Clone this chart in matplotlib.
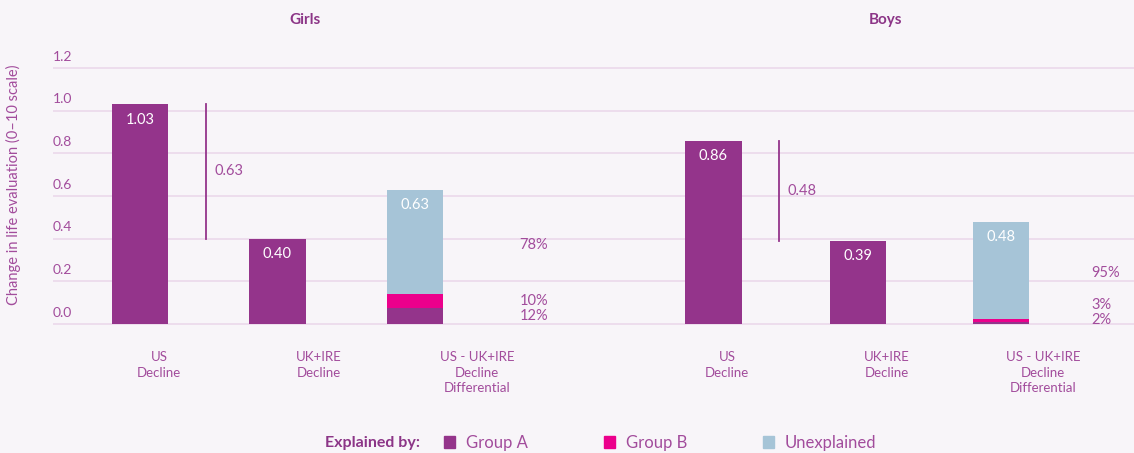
import matplotlib
matplotlib.use("Agg")
import matplotlib.pyplot as plt
from matplotlib.patches import Rectangle

# ---- data ----
panels = ["Girls", "Boys"]
categories = ["US\nDecline", "UK+IRE\nDecline", "US - UK+IRE\nDecline\nDifferential"]
us_decline = [1.03, 0.86]
uk_decline = [0.40, 0.39]
differential = [0.63, 0.48]
# share of differential explained (%)
share_group_a = [12, 2]
share_group_b = [10, 3]
share_unexplained = [78, 95]
series_names = ["Group A", "Group B", "Unexplained"]
yticks = [0.0, 0.2, 0.4, 0.6, 0.8, 1.0, 1.2]

# ---- style ----
C_A = "#94348B"
C_B = "#EC008C"
C_U = "#A6C4D7"
C_TXT = "#A24C9C"
C_TITLE = "#8C3587"
BG = "#F8F5F9"
GRID = "#EBD9EB"
plt.rcParams["font.family"] = ["Lato", "DejaVu Sans"]

W, H = 1134, 453
fig = plt.figure(figsize=(W / 100, H / 100), dpi=100, facecolor=BG)

# layout (slot units)
px_unit = 137.5
x0_px = 140
xlim = ((53 - x0_px) / px_unit, (W - x0_px) / px_unit)
ylim = (-0.03, 1.25)
y0_px, y12_px = 324, 68
ppu = (y0_px - y12_px) / 1.2
ax_bottom = (H - (y0_px - ylim[0] * ppu)) / H
ax_top = (H - (y0_px - ylim[1] * ppu)) / H
ax = fig.add_axes([53 / W, ax_bottom, 1 - 53 / W, ax_top - ax_bottom])
ax.set_facecolor(BG)
ax.set_xlim(*xlim)
ax.set_ylim(*ylim)

group_x = [[0.0, 1.0, 2.0], [4.17, 5.22, 6.26]]
label_x = [[0.14, 1.3, 2.45], [4.27, 5.43, 6.57]]
bw = 0.41

for t in yticks:
    ax.axhline(t, color=GRID, lw=1.2, zorder=0)
    ax.text(0.0, t + 0.025, f"{t:.1f}", transform=ax.get_yaxis_transform(),
            ha="left", va="bottom", fontsize=10, color=C_TXT)

for s in ax.spines.values():
    s.set_visible(False)
ax.set_yticks([])
ax.tick_params(axis="x", length=0, pad=15)
ax.set_xticks([x for g in label_x for x in g])
ax.set_xticklabels(categories * 2, fontsize=9.5, color=C_TXT, linespacing=1.35)
for lab in ax.get_xticklabels():
    lab.set_verticalalignment("top")

fig.text(13 / W, 1 - 185 / H, "Change in life evaluation (0\u201310 scale)", rotation=90,
         ha="center", va="center", fontsize=10.5, color=C_TXT)

title_x = [305, 885]
for i, name in enumerate(panels):
    gx = group_x[i]
    fig.text(title_x[i] / W, 1 - 20 / H, name, ha="center", va="center",
             fontsize=11, fontweight="bold", color=C_TITLE)

    ax.bar(gx[0], us_decline[i], bw, color=C_A, zorder=2)
    ax.bar(gx[1], uk_decline[i], bw, color=C_A, zorder=2)
    a = differential[i] * share_group_a[i] / 100
    b = differential[i] * share_group_b[i] / 100
    u = differential[i] * share_unexplained[i] / 100
    ax.bar(gx[2], a, bw, color=C_A, zorder=2)
    ax.bar(gx[2], b, bw, bottom=a, color=C_B, zorder=2)
    ax.bar(gx[2], u, bw, bottom=a + b, color=C_U, zorder=2)

    for xx, v in [(gx[0], us_decline[i]), (gx[1], uk_decline[i]), (gx[2], differential[i])]:
        ax.annotate(f"{v:.2f}", (xx, v), xytext=(0, -11), textcoords="offset points",
                    ha="center", va="center", color="white", fontsize=10.5, zorder=3)

    # bracket showing the gap between US and UK+IRE
    lx = gx[0] + 0.48
    ax.plot([lx, lx], [uk_decline[i], us_decline[i]], color=C_A, lw=1.3, zorder=2)
    ax.text(lx + 0.06, (uk_decline[i] + us_decline[i]) / 2, f"{differential[i]:.2f}",
            ha="left", va="center", fontsize=10.5, color=C_TXT)

    # percentage labels beside the stacked bar
    ya = max(a / 2, 0.02)
    yb = max(a + b / 2, ya + 0.07)
    yu = a + b + u / 2 - 0.015
    px = gx[2] + 0.76 if i == 0 else gx[2] + 0.66
    for yy, p in [(ya, share_group_a[i]), (yb, share_group_b[i]), (yu, share_unexplained[i])]:
        ax.text(px, yy, f"{p}%", ha="left", va="center", fontsize=10.5, color=C_TXT)

# legend
leg_y = 1 - 443 / H
fig.text(420 / W, leg_y, "Explained by:", ha="right", va="center", fontsize=11.5,
         fontweight="bold", color=C_TITLE)
for k, (name, col) in enumerate(zip(series_names, [C_A, C_B, C_U])):
    sx = 444 + k * 159.5
    fig.patches.append(Rectangle((sx / W, (H - 448) / H), 11 / W, 12 / H,
                                 transform=fig.transFigure, color=col, figure=fig))
    fig.text((sx + 22) / W, leg_y, name, ha="left", va="center", fontsize=12, color=C_TXT)

fig.savefig("out.png", dpi=100, facecolor=BG)
